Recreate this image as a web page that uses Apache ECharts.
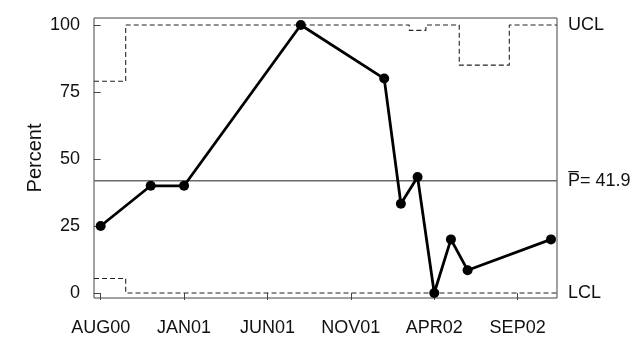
<!DOCTYPE html>
<html>
<head>
<meta charset="utf-8">
<script src="https://cdn.jsdelivr.net/npm/echarts@6/dist/echarts.min.js"></script>
<style>
html,body{margin:0;padding:0;background:#fff;}
#chart{width:638px;height:359px;}
</style>
</head>
<body>
<div id="chart"></div>
<script>
// month index: 0 = AUG00
var monthIndex = [0, 3, 5, 12, 17, 18, 19, 20, 21, 22, 27];
var percent    = [25, 40, 40, 100, 80, 33.3, 43.3, 0, 20, 8.5, 20];
var ucl        = [79, 100, 100, 100, 100, 100, 98, 100, 100, 85, 100];
var lcl        = [5.4, 0, 0, 0, 0, 0, 0, 0, 0, 0, 0];
var pBar = 41.9;
var tickMonths = [0, 5, 10, 15, 20, 25];
var tickLabels = ["AUG00", "JAN01", "JUN01", "NOV01", "APR02", "SEP02"];
var yTicks = [0, 25, 50, 75, 100];

var xMin = -0.4, xMax = 27.36;
var yMin = -1.87, yMax = 102.6;
var FONT = '"Liberation Sans", Arial, Helvetica, sans-serif';

function limitData(arr) {
  var d = [[xMin, arr[0]]];
  for (var i = 0; i < arr.length; i++) d.push([monthIndex[i], arr[i]]);
  d.push([xMax, arr[arr.length - 1]]);
  return d;
}
var mainData = monthIndex.map(function (m, i) { return [m, percent[i]]; });

var chart = echarts.init(document.getElementById('chart'), null, {renderer: 'canvas'});
chart.setOption({
  animation: false,
  backgroundColor: '#fff',
  textStyle: {fontFamily: FONT},
  grid: {left: 94, right: 81, top: 18, bottom: 61, show: true, borderColor: '#444', borderWidth: 1, backgroundColor: 'transparent'},
  xAxis: {
    type: 'value', min: xMin, max: xMax,
    splitLine: {show: false},
    axisLine: {show: false},
    axisTick: {show: true, length: 7, customValues: tickMonths, lineStyle: {color: '#444', width: 1}},
    axisLabel: {
      customValues: tickMonths, margin: 21, fontSize: 18, color: '#111', fontFamily: FONT,
      formatter: function (v) { var i = tickMonths.indexOf(v); return i >= 0 ? tickLabels[i] : ''; }
    }
  },
  yAxis: [{
    type: 'value', min: yMin, max: yMax,
    name: 'Percent', nameLocation: 'middle', nameRotate: 90, nameGap: 49, nameMoveOverlap: false,
    nameTextStyle: {fontSize: 20, color: '#111', fontFamily: FONT},
    splitLine: {show: false},
    axisLine: {show: false},
    axisTick: {show: true, length: 7, customValues: yTicks, lineStyle: {color: '#444', width: 1}},
    axisLabel: {customValues: yTicks, margin: 14, fontSize: 18, color: '#111', fontFamily: FONT}
  }, {
    type: 'value', min: yMin, max: yMax, position: 'right',
    splitLine: {show: false}, axisLine: {show: false}, axisTick: {show: false},
    axisLabel: {
      customValues: [lcl[lcl.length - 1], pBar, ucl[ucl.length - 1]],
      margin: 11, fontSize: 18, color: '#111', fontFamily: FONT,
      formatter: function (v) {
        if (v === pBar) return 'P\u0305= ' + pBar;
        if (v === ucl[ucl.length - 1]) return 'UCL';
        return 'LCL';
      }
    }
  }],
  series: [
    {
      type: 'line', data: limitData(ucl), step: 'middle', symbol: 'none', silent: true,
      lineStyle: {color: '#222', width: 1.1, type: [5, 3]}, z: 2
    },
    {
      type: 'line', data: limitData(lcl), step: 'middle', symbol: 'none', silent: true,
      lineStyle: {color: '#222', width: 1.1, type: [5, 3]}, z: 2
    },
    {
      type: 'line', data: [[xMin, pBar], [xMax, pBar]], symbol: 'none', silent: true,
      lineStyle: {color: '#6a6a6a', width: 1.5}, z: 2
    },
    {
      type: 'line', data: mainData, symbol: 'circle', symbolSize: 10,
      itemStyle: {color: '#000'}, lineStyle: {color: '#000', width: 2.8}, z: 5
    }
  ]
});
</script>
</body>
</html>
